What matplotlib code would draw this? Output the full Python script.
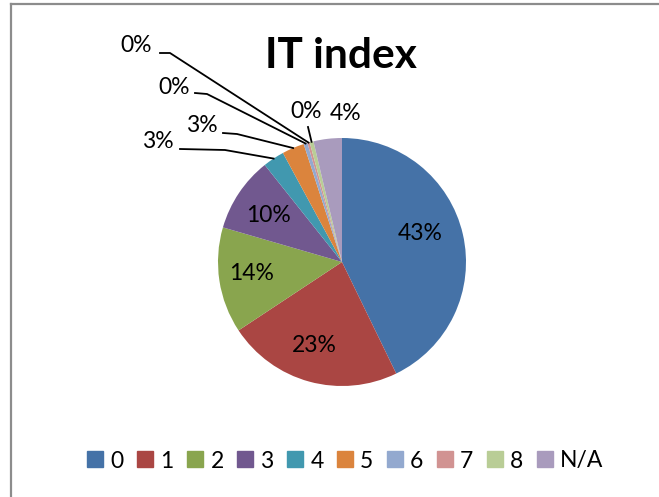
import numpy as np
import matplotlib.pyplot as plt
from matplotlib.lines import Line2D

plt.rcParams['font.family'] = ['Lato', 'DejaVu Sans']

# du lieu
categories = ['0', '1', '2', '3', '4', '5', '6', '7', '8', 'N/A']
values = [42.8, 22.9, 13.8, 9.8, 2.8, 2.9, 0.5, 0.3, 0.5, 3.7]
labels = ['43%', '23%', '14%', '10%', '3%', '3%', '0%', '0%', '0%', '4%']
colors = ['#4572A7', '#AA4643', '#89A54E', '#71588F', '#4198AF',
          '#DB843D', '#93A9CF', '#D19392', '#B9CD96', '#A99BBD']

# vi tri nhan (pixel) va diem bat dau / khuyu cua duong dan
label_px = [(420, 233), (314, 346), (252, 273), (268, 215), (158, 141),
            (202, 125), (174, 87), (136, 46), (306, 112), (346, 114)]
leader = {4: [(180, 149), (225, 150)],
          5: [(223, 133), (237, 134)],
          6: [(195, 93), (207, 94)],
          7: [(160, 53), (170, 53)],
          8: [(308, 127)]}

W, H = 659, 497
cx, cy, R = 342, 262, 124

def to_data(p):
    return ((p[0] - cx) / R, (cy - p[1]) / R)

fig = plt.figure(figsize=(W / 100, H / 100), dpi=100)
ax = fig.add_axes([(cx - R) / W, (H - cy - R) / H, 2 * R / W, 2 * R / H])

wedges, _ = ax.pie(values, colors=colors, startangle=90, counterclock=False,
                   radius=1)
ax.set_xlim(-1, 1)
ax.set_ylim(-1, 1)
ax.set_aspect('equal')
ax.axis('off')

for i, w in enumerate(wedges):
    x, y = to_data(label_px[i])
    ax.text(x, y, labels[i], ha='center', va='center', fontsize=16.5,
            color='black', clip_on=False)
    if i in leader:
        mid = np.deg2rad((w.theta1 + w.theta2) / 2)
        pts = [to_data(p) for p in leader[i]] + [(np.cos(mid), np.sin(mid))]
        xs, ys = zip(*pts)
        ax.plot(xs, ys, color='black', lw=1.3, clip_on=False)

fig.text(341 / W, 1 - 56 / H, 'IT index', ha='center', va='center',
         fontsize=30.5, fontweight='bold')

handles = [Line2D([], [], marker='s', markersize=11.5, color=c, linestyle='none')
           for c in colors]
fig.legend(handles, categories, loc='center', bbox_to_anchor=(345 / W, 1 - 461 / H),
           ncol=10, frameon=False, fontsize=16.5, handlelength=0.75,
           handletextpad=0.3, columnspacing=0.55)

# khung
fig.add_artist(Line2D([11 / W, 11 / W], [0, 1 - 4 / H], color='#8c8c8c', lw=1.6))
fig.add_artist(Line2D([11 / W, 1], [1 - 4 / H, 1 - 4 / H], color='#8c8c8c', lw=1.6))

fig.savefig('out.png', dpi=100)
